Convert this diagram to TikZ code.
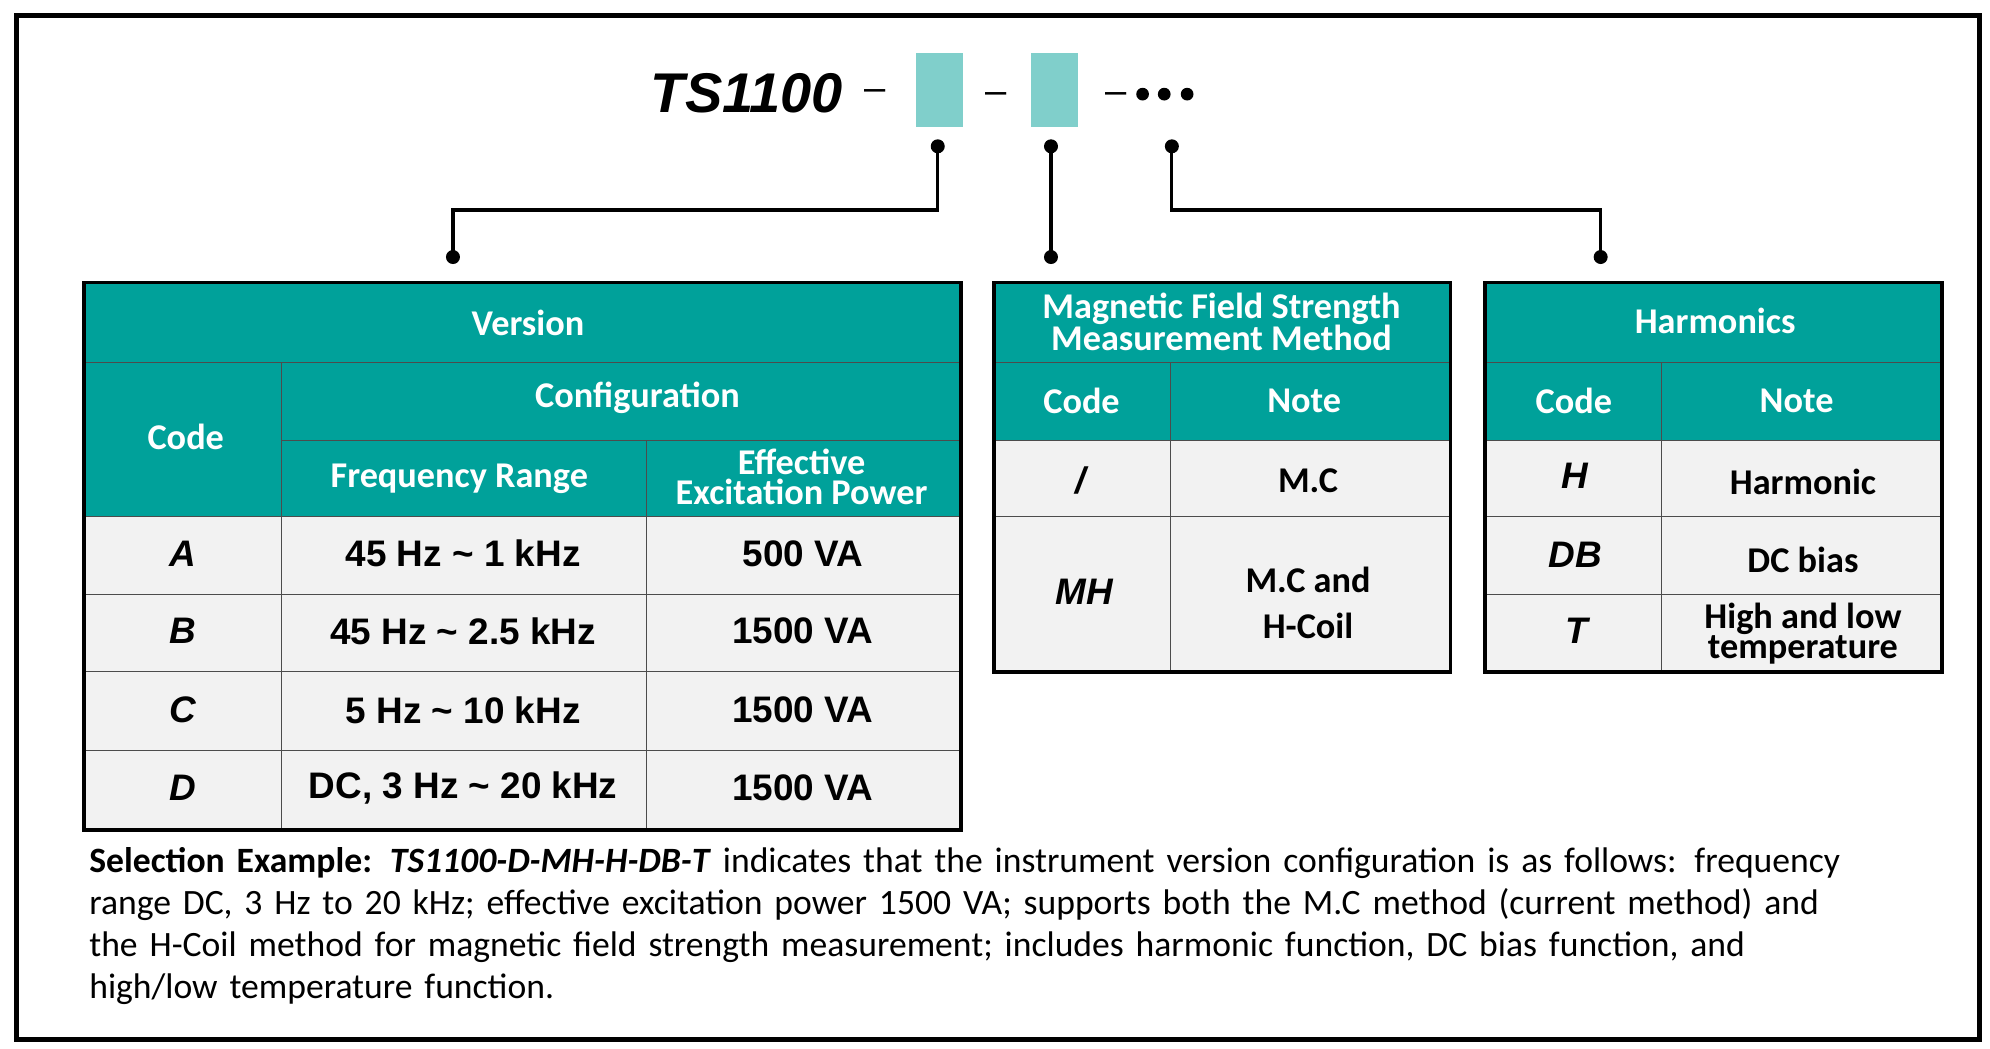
\documentclass[tikz,border=0pt]{standalone}
\usepackage{fontspec}
\setmainfont{Carlito}
\newfontfamily\arial{Liberation Sans}
\definecolor{teal1}{HTML}{00A19A}
\definecolor{lteal}{HTML}{80CFCB}
\definecolor{cellg}{HTML}{F2F2F2}
\begin{document}
\begin{tikzpicture}[x=1pt,y=-1pt,
  hd/.style={fill=teal1,draw=black!70,line width=1pt},
  bd/.style={fill=cellg,draw=black!70,line width=1pt},
  ht/.style={text=white,font=\fontsize{28.5}{23.5}\selectfont\bfseries,align=center},
  bt/.style={font=\arial\fontsize{29}{29}\selectfont\bfseries,align=center},
  bti/.style={font=\arial\fontsize{29}{29}\selectfont\bfseries\itshape},
  nt/.style={font=\fontsize{28.5}{23.5}\selectfont\bfseries,align=center},
  dot/.style={circle,fill=black,inner sep=0pt,minimum size=11pt},
  conn/.style={line width=2.5pt}]
\useasboundingbox (0,0) rectangle (1564,824);
\draw[line width=4pt] (13,12) rectangle (1556,817);
% title
\node[font=\arial\fontsize{44}{44}\selectfont\bfseries\itshape] (ts) at (587,73) {TS1100};
\node[font=\arial\fontsize{30}{30}\selectfont] (d1) at (688,75) {–};
\node[font=\arial\fontsize{30}{30}\selectfont] (d2) at (783,77) {–};
\node[font=\arial\fontsize{30}{30}\selectfont] (d3) at (877,77) {–};
\fill[lteal] (720,42) rectangle (757,100);
\fill[lteal] (810,42) rectangle (847,100);
\node[dot,minimum size=10pt] (p1) at (898,74) {};
\node[dot,minimum size=10pt] (p2) at (915,74) {};
\node[dot,minimum size=10pt] (p3) at (933,74) {};
% connectors
\node[dot] (a1) at (737,115) {}; \node[dot] (a2) at (356,202) {};
\node[dot] (b1) at (826,115) {}; \node[dot] (b2) at (826,202) {};
\node[dot] (c1) at (921,115) {}; \node[dot] (c2) at (1258,202) {};
\coordinate (ak1) at (737,165); \coordinate (ak2) at (356,165);
\coordinate (ck1) at (921,165); \coordinate (ck2) at (1258,165);
\draw[conn] (a1.center) -- (ak1) -- (ak2) -- (a2.center);
\draw[conn] (b1.center) -- (b2.center);
\draw[conn] (c1.center) -- (ck1) -- (ck2) -- (c2.center);
% table 1
\draw[hd] (66,222) rectangle (755,285);
\draw[hd] (66,285) rectangle (221,406);
\draw[hd] (221,285) rectangle (755,346);
\draw[hd] (221,346) rectangle (508,406);
\draw[hd] (508,346) rectangle (755,406);
\foreach \ya/\yb in {406/467,467/528,528/590,590/652}{
  \draw[bd] (66,\ya) rectangle (221,\yb);
  \draw[bd] (221,\ya) rectangle (508,\yb);
  \draw[bd] (508,\ya) rectangle (755,\yb);}
\draw[line width=3pt] (66,222) rectangle (755,652);
\node[ht] (v) at (415,254) {Version};
\node[ht] (cd) at (146,343) {Code};
\node[ht] (cf) at (501,313) {Configuration};
\node[ht] (fr) at (361,376) {Frequency Range};
\node[ht] (ep) at (630,375) {Effective\\Excitation Power};
\node[bti] (rA) at (144,435) {A};
\node[bti] (rB) at (144,496) {B};
\node[bti] (rC) at (144,558) {C};
\node[bti] (rD) at (144,619) {D};
\node[bt] (fA) at (364,435) {45 Hz \char`~{} 1 kHz};
\node[bt] (fB) at (364,496) {45 Hz \char`~{} 2.5 kHz};
\node[bt] (fC) at (364,558) {5 Hz \char`~{} 10 kHz};
\node[bt] (fD) at (364,619) {DC, 3 Hz \char`~{} 20 kHz};
\node[bt] (pA) at (631,435) {500 VA};
\node[bt] (pB) at (631,496) {1500 VA};
\node[bt] (pC) at (631,558) {1500 VA};
\node[bt] (pD) at (631,619) {1500 VA};
% table 2
\draw[hd] (781,222) rectangle (1140,285);
\draw[hd] (781,285) rectangle (920,346);
\draw[hd] (920,285) rectangle (1140,346);
\draw[bd] (781,346) rectangle (920,406);
\draw[bd] (920,346) rectangle (1140,406);
\draw[bd] (781,406) rectangle (920,528);
\draw[bd] (920,406) rectangle (1140,528);
\draw[line width=3pt] (781,222) rectangle (1140,528);
\node[ht] (m) at (960,253) {Magnetic Field Strength\\Measurement Method};
\node[ht] (mc) at (850,315) {Code};
\node[ht] (mn) at (1025,315) {Note};
\node[bti] (m1) at (849,378) {/};
\node[bti] (m2) at (852,465) {MH};
\node[nt,font=\fontsize{28.5}{36}\selectfont\bfseries] (m3) at (1028,378) {M.C};
\node[nt,font=\fontsize{28.5}{36}\selectfont\bfseries] (m4) at (1028,474) {M.C and\\H-Coil};
% table 3
\draw[hd] (1167,222) rectangle (1526,285);
\draw[hd] (1167,285) rectangle (1306,346);
\draw[hd] (1306,285) rectangle (1526,346);
\foreach \ya/\yb in {346/406,406/467,467/528}{
  \draw[bd] (1167,\ya) rectangle (1306,\yb);
  \draw[bd] (1306,\ya) rectangle (1526,\yb);}
\draw[line width=3pt] (1167,222) rectangle (1526,528);
\node[ht] (h) at (1348,252) {Harmonics};
\node[ht] (hc) at (1237,315) {Code};
\node[ht] (hn) at (1412,315) {Note};
\node[bti] (h1) at (1238,374) {H};
\node[bti] (h2) at (1238,436) {DB};
\node[bti] (h3) at (1239,496) {T};
\node[nt] (h4) at (1417,379) {Harmonic};
\node[nt] (h5) at (1417,440) {DC bias};
\node[nt] (h6) at (1417,498) {High and low\\temperature};
% text
\node[anchor=north west,text width=1480pt,align=left,inner sep=0pt,
  font=\fontsize{28}{33}\selectfont] (txt) at (70,666)
 {\textbf{Selection Example:} \textbf{\textit{TS1100-D-MH-H-DB-T}} indicates that the instrument version configuration is as follows: frequency\\
range DC, 3 Hz to 20 kHz; effective excitation power 1500 VA; supports both the M.C method (current method) and\\
the H-Coil method for magnetic field strength measurement; includes harmonic function, DC bias function, and\\
high/low temperature function.};
\end{tikzpicture}
\end{document}
